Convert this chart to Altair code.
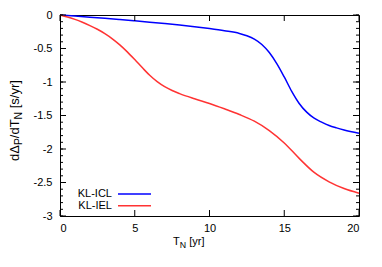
import altair as alt
import pandas as pd

# ---- data ----
series_names = ["KL-ICL", "KL-IEL"]
series_colors = ["#0000ff", "#ff3333"]

t_icl = [0, 1, 2, 3, 4, 5, 6, 7, 8, 9, 10, 11, 12, 12.5, 13, 13.5, 14, 14.5,
         15, 15.5, 16, 16.5, 17, 17.5, 18, 18.5, 19, 20]
v_icl = [0, -0.016, -0.033, -0.05, -0.068, -0.087, -0.107, -0.128, -0.15, -0.175,
         -0.203, -0.235, -0.275, -0.31, -0.36, -0.44, -0.56, -0.725,
         -0.925, -1.14, -1.32, -1.45, -1.54, -1.6, -1.65, -1.685, -1.715, -1.765]

t_iel = [0, 0.5, 1, 1.5, 2, 2.5, 3, 3.5, 4, 4.5, 5, 5.5, 6, 6.5, 7, 7.5, 8,
         9, 10, 11, 12, 13, 14, 15, 16, 17, 18, 19, 20]
v_iel = [0, -0.03, -0.065, -0.108, -0.158, -0.213, -0.278, -0.355, -0.445, -0.55,
         -0.665, -0.785, -0.9, -0.995, -1.07, -1.127, -1.173, -1.25, -1.32,
         -1.4, -1.485, -1.585, -1.725, -1.91, -2.14, -2.35, -2.49, -2.59, -2.66]

x_ticks = [0, 5, 10, 15, 20]
y_major = [0, -0.5, -1, -1.5, -2, -2.5, -3]
y_minor = [0, -0.1, -0.2, -0.3, -0.4, -0.5, -0.6, -0.7, -0.8, -0.9, -1.0,
           -1.1, -1.2, -1.3, -1.4, -1.5, -1.6, -1.7, -1.8, -1.9, -2.0,
           -2.1, -2.2, -2.3, -2.4, -2.5, -2.6, -2.7, -2.8, -2.9, -3.0]

x_title_parts = ["T", "N", "[yr]"]
y_title_parts = ["dΔ", "P", "/dT", "N", "[s/yr]"]

FONT = "Liberation Sans"
W, H = 299, 201

df = pd.concat([
    pd.DataFrame({"t": t_icl, "v": v_icl, "series": series_names[0]}),
    pd.DataFrame({"t": t_iel, "v": v_iel, "series": series_names[1]}),
])

xscale = alt.Scale(domain=[0, 20], nice=False, zero=False)
yscale = alt.Scale(domain=[-3, 0], nice=False, zero=False)

xaxis = alt.Axis(values=x_ticks, ticks=False, domain=False, grid=False, title=None,
                 labelFont=FONT, labelFontSize=11, labelColor="black", labelPadding=6,
                 labelOverlap=False)
yaxis = alt.Axis(values=y_major, ticks=False, domain=False, grid=False, title=None,
                 labelFont=FONT, labelFontSize=11, labelColor="black", labelPadding=8,
                 labelOverlap=False, labelExpr="toString(datum.value)")

lines = alt.Chart(df).mark_line(strokeWidth=1.5, interpolate="monotone").encode(
    x=alt.X("t:Q", scale=xscale, axis=xaxis),
    y=alt.Y("v:Q", scale=yscale, axis=yaxis),
    color=alt.Color("series:N", scale=alt.Scale(domain=series_names, range=series_colors),
                    legend=None),
)

ymin_df = pd.DataFrame({"v": y_minor})
ymaj_df = pd.DataFrame({"v": y_major})
xt_df = pd.DataFrame({"t": x_ticks})

def yrule(d, x1, x2):
    return alt.Chart(d).mark_rule(color="black", strokeWidth=1).encode(
        y=alt.Y("v:Q", scale=yscale, axis=yaxis), x=alt.value(x1), x2=alt.value(x2))

def xrule(d, y1, y2):
    return alt.Chart(d).mark_rule(color="black", strokeWidth=1).encode(
        x=alt.X("t:Q", scale=xscale, axis=xaxis), y=alt.value(y1), y2=alt.value(y2))

ticks = [
    yrule(ymin_df, 0, 3), yrule(ymin_df, W, W - 3),
    yrule(ymaj_df, 0, 6), yrule(ymaj_df, W, W - 6),
    xrule(xt_df, H, H - 6), xrule(xt_df, 0, 6),
]

_counter = [0]
def txt(s, x, y, size=11, angle=0, align="left", baseline="alphabetic"):
    _counter[0] += 1
    kw = dict(font=FONT, fontSize=size, color="black", align=align,
              baseline=baseline, text=s)
    if angle:
        kw["angle"] = angle
    return alt.Chart(pd.DataFrame({"k": [_counter[0]]})).mark_text(**kw).encode(
        x=alt.value(x), y=alt.value(y))

# x title: T_N [yr]
xt = [
    txt(x_title_parts[0], 113, 229.5),
    txt(x_title_parts[1], 119.7, 232.5, size=8.8),
    txt(x_title_parts[2], 129.2, 229.5),
]
# y title rotated
fy = 13
yb, ys = -41.3, -38.3
yt = [
    txt(y_title_parts[0], yb, 146, size=fy, angle=270),
    txt(y_title_parts[1], ys, 130.1, size=fy * 0.8, angle=270),
    txt(y_title_parts[2], yb, 123.2, size=fy, angle=270),
    txt(y_title_parts[3], ys, 104.4, size=fy * 0.8, angle=270),
    txt(y_title_parts[4], yb, 93.3, size=fy, angle=270),
]

# legend (gnuplot style: text left, sample right)
leg_y = [179, 190.7]
legend = []
for name, col, yy in zip(series_names, series_colors, leg_y):
    legend.append(txt(name, 52, yy, align="right", baseline="middle"))
    legend.append(alt.Chart(pd.DataFrame({"s": [name]})).mark_rule(
        color=col, strokeWidth=1.5).encode(
        x=alt.value(58), x2=alt.value(91), y=alt.value(yy)))

chart = alt.layer(lines, *ticks, *xt, *yt, *legend).properties(
    width=W, height=H,
    autosize=alt.AutoSizeParams(type="none"),
    padding={"left": 52, "top": 7, "right": 15, "bottom": 43},
).configure_view(stroke="black", strokeWidth=1)

chart.save("out.html", embed_options={"renderer": "svg", "actions": False})
